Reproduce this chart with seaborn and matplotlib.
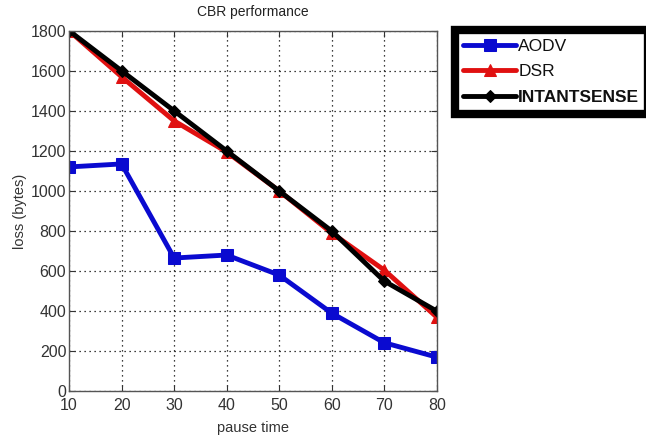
import matplotlib
matplotlib.use("Agg")
import matplotlib.pyplot as plt
import seaborn as sns
import pandas as pd

pause_time = [10, 20, 30, 40, 50, 60, 70, 80]
aodv = [1120, 1135, 665, 680, 580, 390, 242, 170]
dsr = [1800, 1570, 1350, 1195, 1000, 790, 605, 370]
intantsense = [1800, 1600, 1400, 1200, 1000, 800, 550, 400]
series_names = ["AODV", "DSR", "INTANTSENSE"]
y_ticks = [0, 200, 400, 600, 800, 1000, 1200, 1400, 1600, 1800]
x_ticks = [10, 20, 30, 40, 50, 60, 70, 80]

df = pd.DataFrame({
    "pause time": pause_time * 3,
    "loss": aodv + dsr + intantsense,
    "series": [s for s in series_names for _ in pause_time],
})

sns.set_style("white")
plt.rcParams['font.family'] = ['Liberation Sans', 'DejaVu Sans']

fig = plt.figure(figsize=(6.46, 4.40), dpi=100)
ax = fig.add_axes([0.107, 0.111, 0.569, 0.819])

palette = {"AODV": "#0a0ad0", "DSR": "#e01010", "INTANTSENSE": "#000000"}
markers = {"AODV": "s", "DSR": "^", "INTANTSENSE": "D"}
msize = {"AODV": 9, "DSR": 9, "INTANTSENSE": 6}
for name in series_names:
    sub = df[df["series"] == name]
    sns.lineplot(data=sub, x="pause time", y="loss", ax=ax, color=palette[name],
                 marker=markers[name], markersize=msize[name], linewidth=3.5,
                 markeredgecolor=palette[name], label=name, legend=False)

ax.set_xlim(10, 80)
ax.set_ylim(0, 1800)
ax.set_xticks(x_ticks)
ax.set_yticks(y_ticks)
ax.grid(True, linestyle=(0, (1, 3)), color="#000000", linewidth=0.9)
for sp in ax.spines.values():
    sp.set_color("#555555")
    sp.set_linewidth(1.0)
    sp.set_visible(True)
ax.tick_params(direction="in", length=4, color="#333333", labelcolor="#333333",
               labelsize=11.5, top=True, right=True, bottom=True, left=True)
ax.tick_params(axis="x", pad=5)
ax.tick_params(axis="y", pad=2)
ax.set_xlabel("pause time", fontsize=10.5, color="#333333", labelpad=6)
ax.set_ylabel("loss (bytes)", fontsize=10.5, color="#333333", labelpad=3)
ax.set_title("CBR performance", fontsize=10, color="#222222", pad=11)

handles, labels = ax.get_legend_handles_labels()
leg = fig.legend(handles, labels, loc="upper left", bbox_to_anchor=(0.704, 0.932),
                 fontsize=12.5, frameon=True, fancybox=False, framealpha=1.0,
                 handlelength=3.0, handletextpad=0.15, borderpad=0.5,
                 labelspacing=0.6, borderaxespad=0)
leg.get_frame().set_edgecolor("black")
leg.get_frame().set_linewidth(6)
for t in leg.get_texts():
    t.set_color("#111111")
    if t.get_text() == "INTANTSENSE":
        t.set_fontweight("bold")

fig.savefig("out.png", dpi=100)
